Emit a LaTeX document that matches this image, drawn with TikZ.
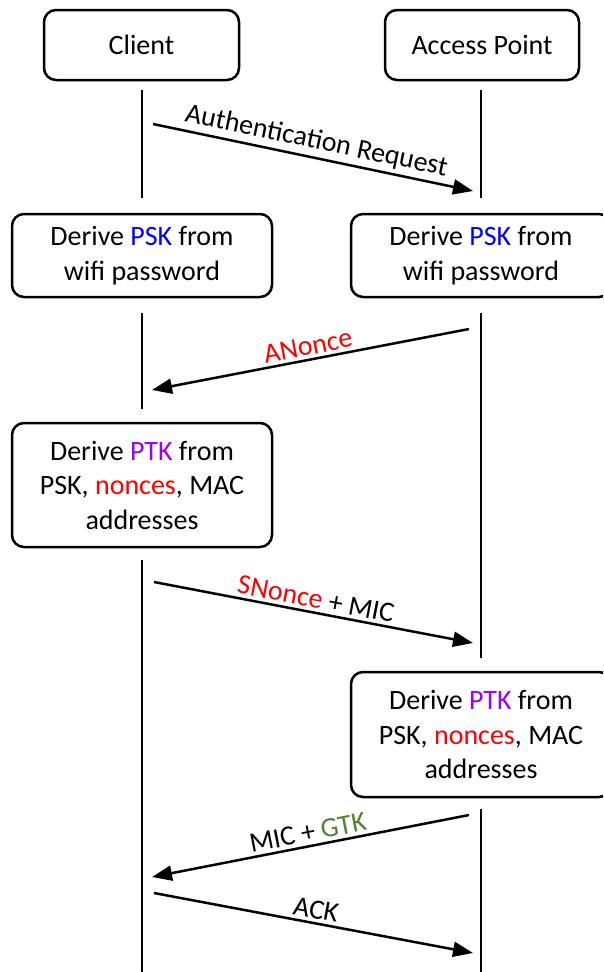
\documentclass[tikz,border=0pt]{standalone}
\usepackage{fontspec}
\setmainfont{Carlito}
\usetikzlibrary{arrows.meta}
\definecolor{pskblue}{RGB}{0,0,255}
\definecolor{ptkpurple}{RGB}{153,0,255}
\definecolor{noncered}{RGB}{255,0,0}
\definecolor{gtkgreen}{RGB}{84,130,53}
\begin{document}
\begin{tikzpicture}[x=1pt, y=-1pt,
  font=\fontsize{28}{34.5}\selectfont,
  party/.style={draw, line width=2.5pt, rounded corners=12pt, align=center, inner sep=0pt},
  lifeline/.style={line width=2.5pt},
  msg/.style={line width=2.5pt, -{Triangle[length=20pt,width=15pt]}}]
\clip (0, 0) rectangle (603, 972);
\node (client) at (141.5, 45) [party, minimum width=195, minimum height=70] {Client};
\node (ap) at (482, 45) [party, minimum width=194, minimum height=70] {Access Point};
\node (pskc) at (142, 255.5) [party, minimum width=260, minimum height=83] {Derive \textcolor{pskblue}{PSK} from\\wifi password};
\node (pska) at (481, 255.5) [party, minimum width=260, minimum height=83] {Derive \textcolor{pskblue}{PSK} from\\wifi password};
\node (ptkc) at (142, 485) [party, minimum width=260, minimum height=124] {Derive \textcolor{ptkpurple}{PTK} from\\PSK, \textcolor{noncered}{nonces}, MAC\\addresses};
\node (ptka) at (481, 734.5) [party, minimum width=260, minimum height=125] {Derive \textcolor{ptkpurple}{PTK} from\\PSK, \textcolor{noncered}{nonces}, MAC\\addresses};
% lifelines
\coordinate (c1) at (142, 90);
\coordinate (c2) at (142, 198);
\coordinate (c3) at (142, 313);
\coordinate (c4) at (142, 409);
\coordinate (c5) at (142, 560);
\coordinate (c6) at (142, 972);
\coordinate (a1) at (481, 90);
\coordinate (a2) at (481, 198);
\coordinate (a3) at (481, 313);
\coordinate (a4) at (481, 658);
\coordinate (a5) at (481, 809);
\coordinate (a6) at (481, 972);
\draw[lifeline] (c1) -- (c2);
\draw[lifeline] (c3) -- (c4);
\draw[lifeline] (c5) -- (c6);
\draw[lifeline] (a1) -- (a2);
\draw[lifeline] (a3) -- (a4);
\draw[lifeline] (a5) -- (a6);
% messages
\coordinate (m1s) at (153, 124);
\coordinate (m1e) at (473, 191);
\coordinate (m2s) at (469, 329);
\coordinate (m2e) at (152, 390);
\coordinate (m3s) at (154, 582);
\coordinate (m3e) at (473, 643);
\coordinate (m4s) at (469, 815);
\coordinate (m4e) at (152, 877);
\coordinate (m5s) at (154, 893);
\coordinate (m5e) at (473, 953);
\draw[msg] (m1s) -- (m1e) node [midway, above, sloped] {Authentication Request};
\draw[msg] (m2s) -- (m2e) node [midway, above, sloped] {\textcolor{noncered}{ANonce}};
\draw[msg] (m3s) -- (m3e) node [midway, above, sloped] {\textcolor{noncered}{SNonce} + MIC};
\draw[msg] (m4s) -- (m4e) node [midway, above, sloped] {MIC + \textcolor{gtkgreen}{GTK}};
\draw[msg] (m5s) -- (m5e) node [midway, above, sloped] {ACK};
\end{tikzpicture}
\end{document}
